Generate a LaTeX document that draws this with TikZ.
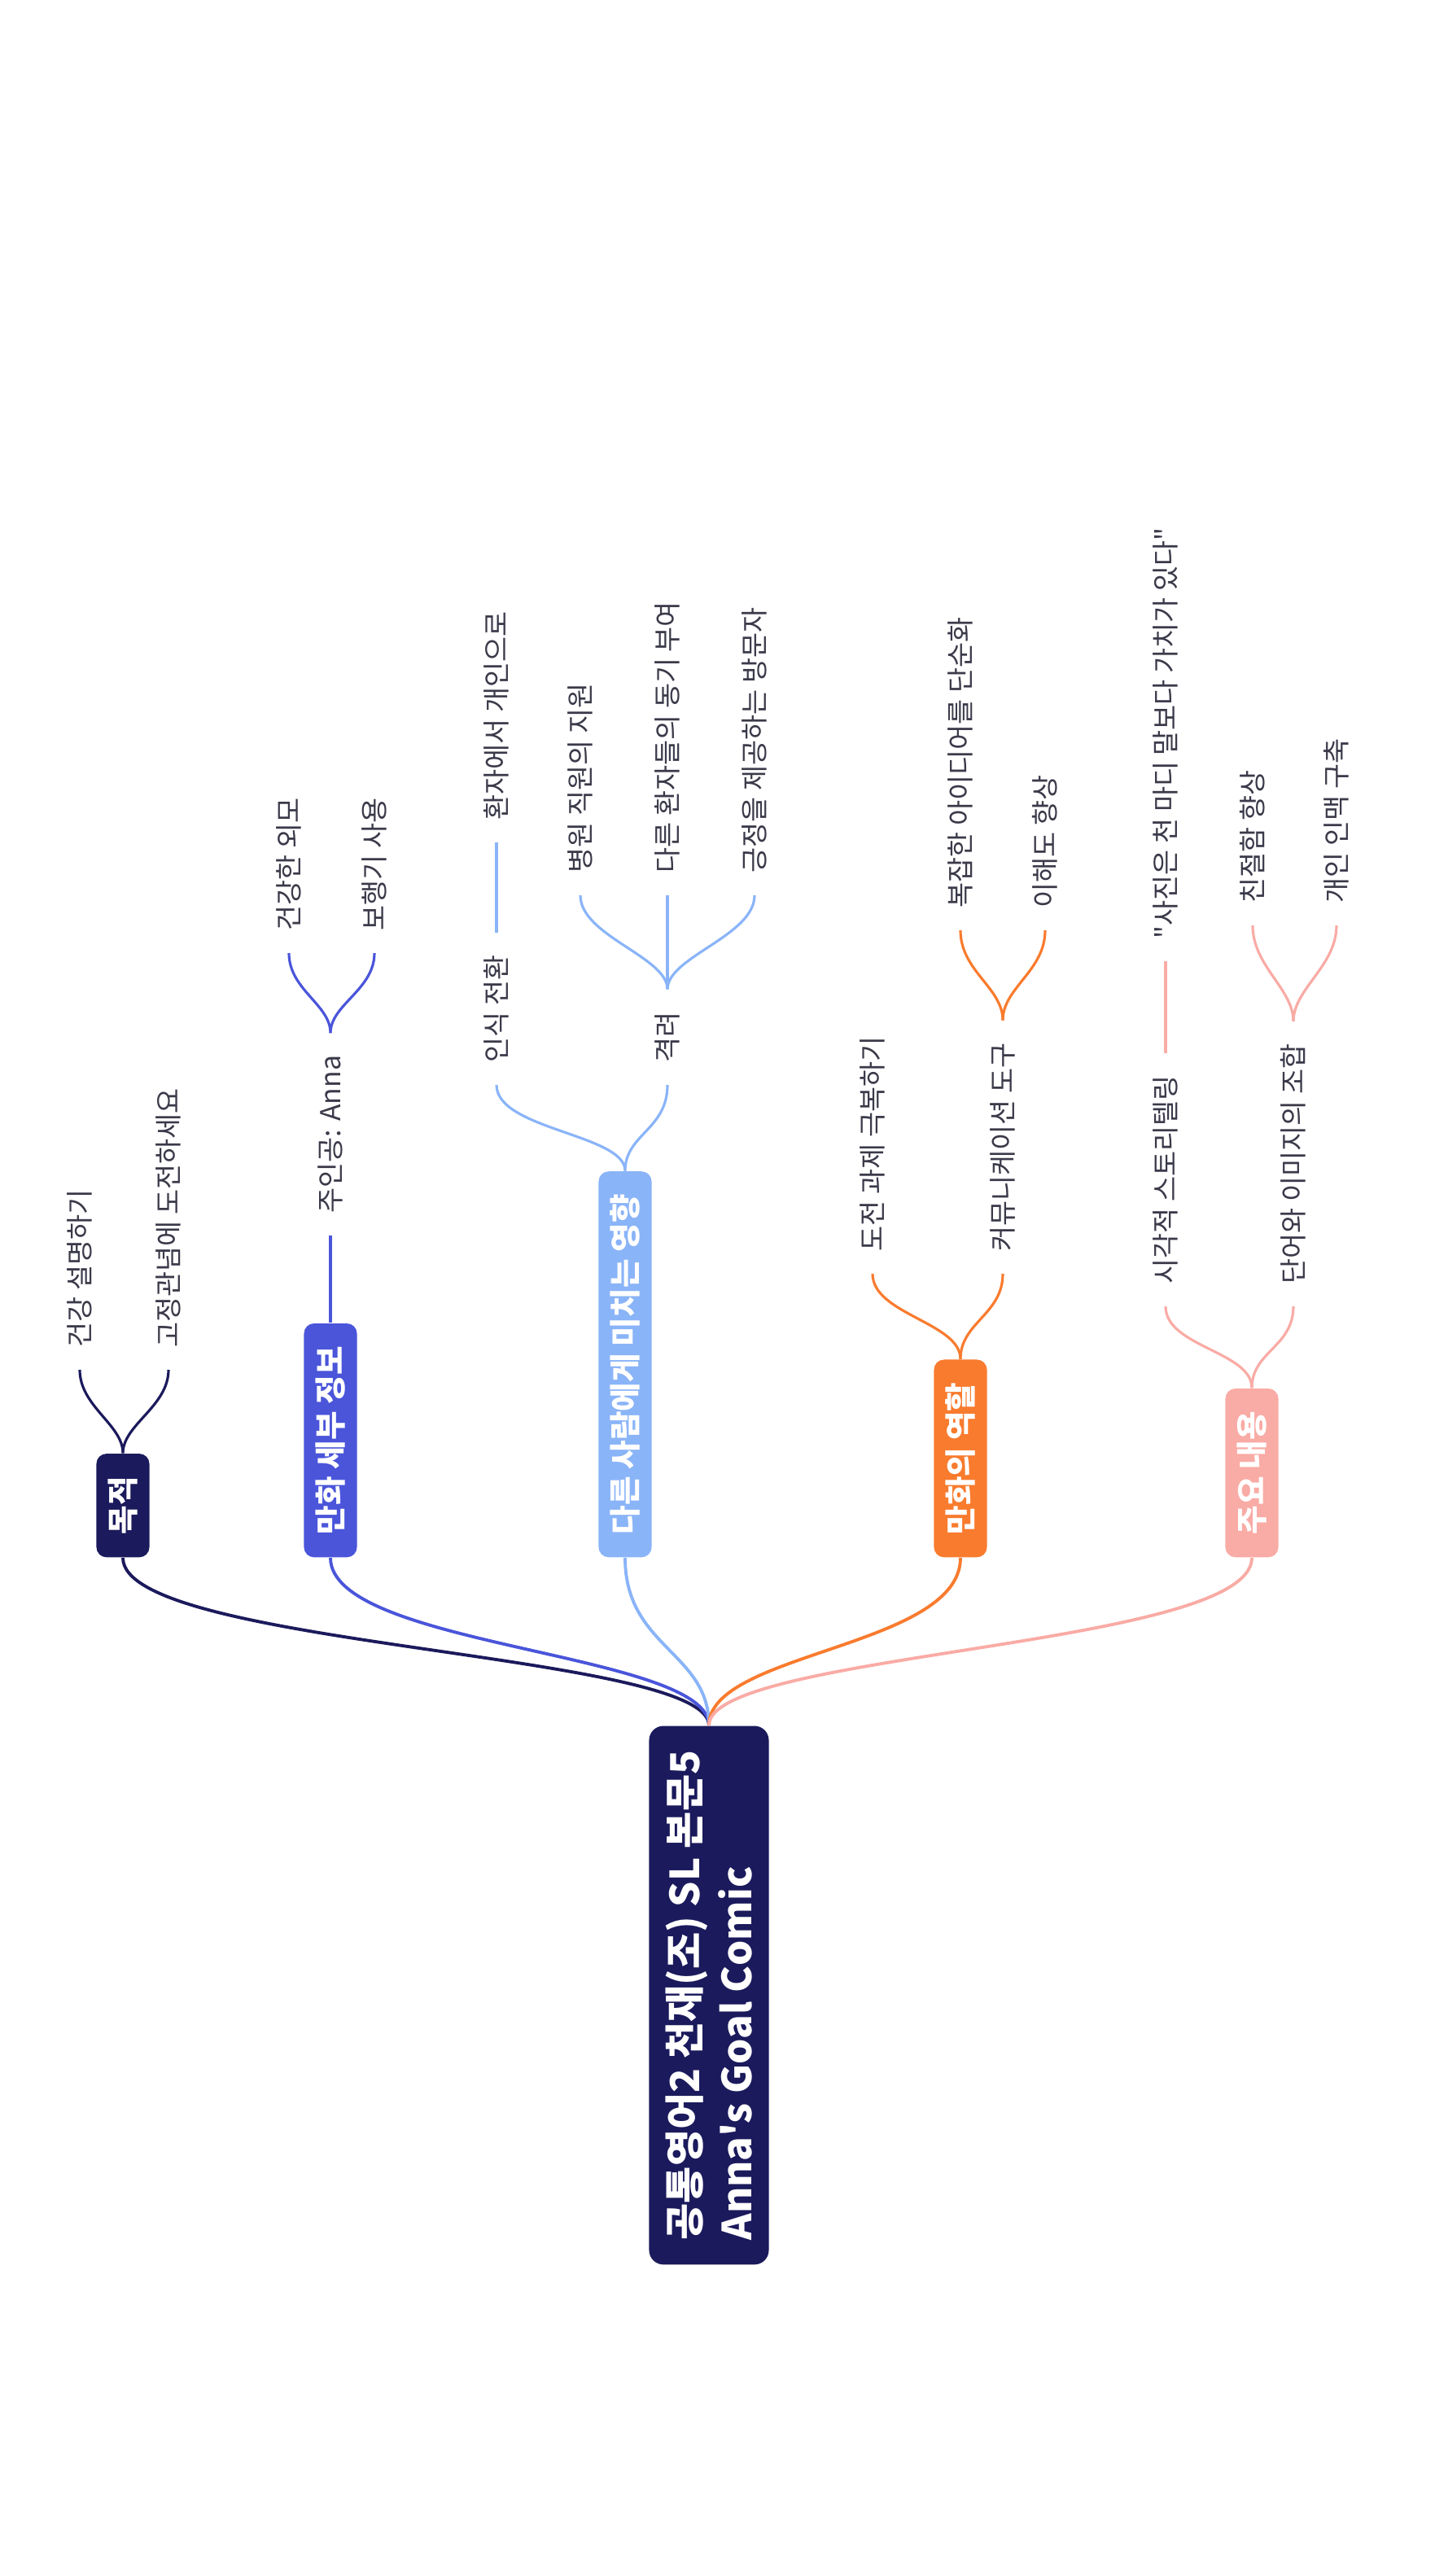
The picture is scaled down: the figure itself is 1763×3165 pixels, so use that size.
\documentclass[tikz,border=0pt]{standalone}
\usepackage{fontspec}
\newfontfamily\korean{Noto Sans CJK KR}
\usetikzlibrary{calc}
\definecolor{navy}{HTML}{1B1A5C}
\definecolor{royal}{HTML}{4A55DA}
\definecolor{sky}{HTML}{8AB4F8}
\definecolor{tangerine}{HTML}{F97B2E}
\definecolor{salmon}{HTML}{F9ABA5}
\definecolor{leafgray}{HTML}{3A3A4A}
\tikzset{
    rootbox/.style={rotate=90,anchor=west,fill=navy,text=white,rounded corners=5pt,align=left,
      font=\korean\bfseries\fontsize{14pt}{18.4pt}\selectfont,inner xsep=0.3cm,minimum height=1.47cm},
    branchbox/.style={rotate=90,anchor=west,fill=#1,text=white,rounded corners=3.5pt,
      font=\korean\bfseries\fontsize{11pt}{13pt}\selectfont,inner xsep=0.28cm,minimum height=0.65cm},
    leaf/.style={rotate=90,anchor=west,text=leafgray,font=\korean\fontsize{9.6pt}{11pt}\selectfont,inner xsep=0.27cm},
    link/.style={draw=#1,line width=1.1pt},
    twig/.style={draw=#1,line width=0.9pt},
  }

\begin{document}
\begin{tikzpicture}[x=0.01cm,y=-0.01cm]
	\useasboundingbox (0,0) rectangle (1763,3165);
	%RACINE
	\node[rootbox] (root) at (871,2783) {공통영어2 천재(조) SL 본문5\\Anna's Goal Comic};
	%BRANCHES
	\node[branchbox=navy] (goal) at (151,1914) {목적};
	\node[branchbox=royal] (detail) at (406,1914) {만화 세부 정보};
	\node[branchbox=sky] (effect) at (768,1914) {다른 사람에게 미치는 영향};
	\node[branchbox=tangerine] (role) at (1180,1914) {만화의 역할};
	\node[branchbox=salmon] (content) at (1538,1914) {주요 내용};
	\draw[link=navy] (root.east) .. controls +(0,-90) and +(0,110) .. (goal.west);
	\draw[link=royal] (root.east) .. controls +(0,-90) and +(0,110) .. (detail.west);
	\draw[link=sky] (root.east) .. controls +(0,-90) and +(0,110) .. (effect.west);
	\draw[link=tangerine] (root.east) .. controls +(0,-90) and +(0,110) .. (role.west);
	\draw[link=salmon] (root.east) .. controls +(0,-90) and +(0,110) .. (content.west);
	%MOKJEOK
	\node[leaf] (health) at (98,1683) {건강 설명하기};
	\node[leaf] (stereo) at (207,1683) {고정관념에 도전하세요};
	\draw[twig=navy] (goal.east) .. controls +(0,-35) and +(0,45) .. (health.west);
	\draw[twig=navy] (goal.east) .. controls +(0,-35) and +(0,45) .. (stereo.west);
	%DETAILS
	\node[leaf] (hero) at (406,1518) {주인공: Anna};
	\node[leaf] (look) at (355,1171) {건강한 외모};
	\node[leaf] (walker) at (460,1171) {보행기 사용};
	\draw[twig=royal] (detail.east) -- (hero.west);
	\draw[twig=royal] (hero.east) .. controls +(0,-35) and +(0,45) .. (look.west);
	\draw[twig=royal] (hero.east) .. controls +(0,-35) and +(0,45) .. (walker.west);
	%EFFET
	\node[leaf] (shift) at (610,1333) {인식 전환};
	\node[leaf] (person) at (610,1035) {환자에서 개인으로};
	\node[leaf] (cheer) at (820,1333) {격려};
	\node[leaf] (staff) at (713,1100) {병원 직원의 지원};
	\node[leaf] (others) at (820,1100) {다른 환자들의 동기 부여};
	\node[leaf] (visitor) at (927,1100) {긍정을 제공하는 방문자};
	\draw[twig=sky] (effect.east) .. controls +(0,-45) and +(0,55) .. (shift.west);
	\draw[twig=sky] (effect.east) .. controls +(0,-45) and +(0,55) .. (cheer.west);
	\draw[twig=sky] (shift.east) -- (person.west);
	\draw[twig=sky] (cheer.east) .. controls +(0,-40) and +(0,50) .. (staff.west);
	\draw[twig=sky] (cheer.east) -- (others.west);
	\draw[twig=sky] (cheer.east) .. controls +(0,-40) and +(0,50) .. (visitor.west);
	%ROLE
	\node[leaf] (overcome) at (1072,1565) {도전 과제 극복하기};
	\node[leaf] (tool) at (1232,1565) {커뮤니케이션 도구};
	\node[leaf] (simple) at (1180,1143) {복잡한 아이디어를 단순화};
	\node[leaf] (grasp) at (1284,1143) {이해도 향상};
	\draw[twig=tangerine] (role.east) .. controls +(0,-45) and +(0,50) .. (overcome.west);
	\draw[twig=tangerine] (role.east) .. controls +(0,-45) and +(0,50) .. (tool.west);
	\draw[twig=tangerine] (tool.east) .. controls +(0,-40) and +(0,50) .. (simple.west);
	\draw[twig=tangerine] (tool.east) .. controls +(0,-40) and +(0,50) .. (grasp.west);
	%CONTENU
	\node[leaf] (visual) at (1432,1605) {시각적 스토리텔링};
	\node[leaf] (quote) at (1432,1181) {"사진은 천 마디 말보다 가치가 있다"};
	\node[leaf] (mix) at (1589,1605) {단어와 이미지의 조합};
	\node[leaf] (kind) at (1539,1137) {친절함 향상};
	\node[leaf] (network) at (1642,1137) {개인 인맥 구축};
	\draw[twig=salmon] (content.east) .. controls +(0,-45) and +(0,50) .. (visual.west);
	\draw[twig=salmon] (content.east) .. controls +(0,-45) and +(0,50) .. (mix.west);
	\draw[twig=salmon] (visual.east) -- (quote.west);
	\draw[twig=salmon] (mix.east) .. controls +(0,-40) and +(0,50) .. (kind.west);
	\draw[twig=salmon] (mix.east) .. controls +(0,-40) and +(0,50) .. (network.west);
\end{tikzpicture}
\end{document}
